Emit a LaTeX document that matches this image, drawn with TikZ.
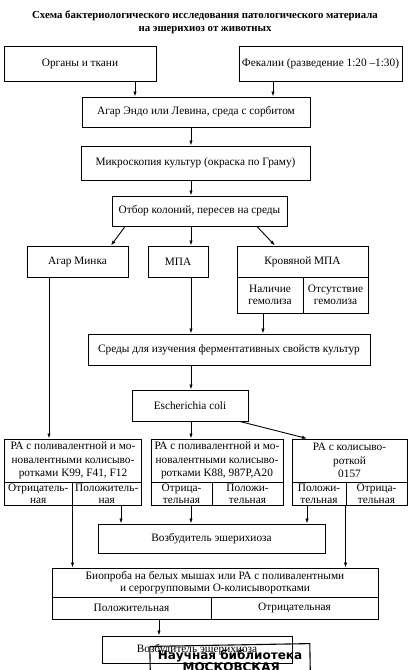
\documentclass[tikz,border=0pt]{standalone}
\usepackage{fontspec}
\setmainfont{Liberation Serif}
\newfontfamily\stampfont{DejaVu Sans}
\usetikzlibrary{arrows.meta}
\begin{document}
\begin{tikzpicture}[x=1pt,y=-1pt,
  box/.style={draw, line width=1pt, inner sep=0.5pt, align=center,
    font=\fontsize{11.3}{13}\selectfont},
  cell/.style={box, font=\fontsize{11.3}{11.8}\selectfont},
  three/.style={box, font=\fontsize{11.3}{13.3}\selectfont},
  arr/.style={line width=0.9pt, -{Latex[length=5pt,width=3.5pt]}},
  stamptext/.style={font=\stampfont\bfseries\fontsize{12}{12}\selectfont, inner sep=0pt}]
\useasboundingbox (0,0) rectangle (409,670);
\fill[white] (0,0) rectangle (409,670);

\node[align=center, font=\bfseries\fontsize{10.8}{13}\selectfont] (title) at (205,22)
  {Схема бактериологического исследования патологического материала\\на эшерихиоз от животных};

\node[box, minimum width=152pt, minimum height=35pt] (organy) at (80,63.5) {Органы и ткани};
\node[box, minimum width=163pt, minimum height=35pt] (fekalii) at (320.5,63.5) {Фекалии (разведение 1:20 –1:30)};
\node[box, minimum width=228pt, minimum height=30pt] (agar) at (196,112) {Агар Эндо или Левина, среда с сорбитом};
\node[box, minimum width=229pt, minimum height=34pt] (mikro) at (195.5,163) {Микроскопия культур (окраска по Граму)};
\node[box, minimum width=175pt, minimum height=30pt] (otbor) at (199.5,211) {Отбор колоний, пересев на среды};

\node[box, minimum width=101pt, minimum height=31pt] (minka) at (77.5,261.5) {Агар Минка};
\node[box, minimum width=60pt, minimum height=31pt] (mpa) at (178,261.5) {МПА};
\node[box, minimum width=131pt, minimum height=31pt] (krov) at (302.5,261.5) {Кровяной МПА};
\node[cell, minimum width=66pt, minimum height=36pt] (nal) at (270,295) {Наличие\\гемолиза};
\node[cell, minimum width=65pt, minimum height=36pt] (ots) at (335.5,295) {Отсутствие\\гемолиза};

\node[box, minimum width=282pt, minimum height=31pt] (sredy) at (229,349.5) {Среды для изучения ферментативных свойств культур};
\node[box, minimum width=116pt, minimum height=31pt] (ecoli) at (190,405.5) {Escherichia coli};

\node[three, minimum width=137pt, minimum height=43pt] (ra1) at (73,460.5)
  {РА с поливалентной и мо-\\новалентными колисыво-\\ротками K99, F41, F12};
\node[cell, minimum width=67.5pt, minimum height=23pt] (ra1n) at (38.25,493.5) {Отрицатель-\\ная};
\node[cell, minimum width=69.5pt, minimum height=23pt] (ra1p) at (106.75,493.5) {Положитель-\\ная};

\node[three, minimum width=132pt, minimum height=43pt] (ra2) at (217,460.5)
  {РА с поливалентной и мо-\\новалентными колисыво-\\ротками K88, 987P,A20};
\node[cell, minimum width=61pt, minimum height=23pt] (ra2n) at (181.5,493.5) {Отрица-\\тельная};
\node[cell, minimum width=71pt, minimum height=23pt] (ra2p) at (247.5,493.5) {Положи-\\тельная};

\node[three, minimum width=115pt, minimum height=43pt] (ra3) at (349.5,460.5)
  {РА с колисыво-\\роткой\\0157};
\node[cell, minimum width=54pt, minimum height=23pt] (ra3p) at (319,493.5) {Положи-\\тельная};
\node[cell, minimum width=61pt, minimum height=23pt] (ra3n) at (376.5,493.5) {Отрица-\\тельная};

\node[box, minimum width=227pt, minimum height=29pt] (vozb1) at (211.5,538.5) {Возбудитель эшерихиоза};

\node[box, minimum width=326pt, minimum height=29pt, font=\fontsize{11.3}{12}\selectfont] (bio) at (215,582.5)
  {Биопроба на белых мышах или РА с поливалентными\\и серогрупповыми О-колисыворотками};
\node[box, minimum width=159pt, minimum height=22pt] (biop) at (131.5,608) {Положительная};
\node[box, minimum width=167pt, minimum height=22pt] (bion) at (294.5,608) {Отрицательная};

\node[box, minimum width=190pt, minimum height=27pt] (vozb2) at (197,649.5) {Возбудитель эшерихиоза};

% connectors
\draw[arr] (organy.south -| 135,0) -- (agar.north -| 135,0);
\draw[arr] (fekalii.south -| 273,0) -- (agar.north -| 273,0);
\draw[arr] (agar.south -| 191,0) -- (mikro.north -| 191,0);
\draw[arr] (mikro.south -| 191,0) -- (otbor.north -| 191,0);
\draw[arr] (otbor.south -| 125,0) -- (minka.north -| 111,0);
\draw[arr] (otbor.south -| 191,0) -- (mpa.north -| 191,0);
\draw[arr] (otbor.south -| 257,0) -- (krov.north -| 275,0);
\draw[arr] (minka.south -| 49,0) -- (ra1.north -| 49,0);
\draw[arr] (mpa.south -| 191,0) -- (sredy.north -| 191,0);
\draw[arr] (nal.south -| 263,0) -- (sredy.north -| 263,0);
\draw[arr] (sredy.south -| 191,0) -- (ecoli.north -| 191,0);
\draw[arr] (ecoli.south -| 191,0) -- (ra2.north -| 191,0);
\draw[arr] (ecoli.south -| 240,0) -- (ra3.north -| 307,0);
\draw[arr] (ra1n.south east) -- (bio.north -| ra1n.south east);
\draw[arr] (ra1p.south -| 121,0) -- (vozb1.north -| 121,0);
\draw[arr] (ra2n.south -| 191,0) -- (vozb1.north -| 191,0);
\draw[arr] (ra3p.south -| 307,0) -- (vozb1.north -| 307,0);
\draw[arr] (ra3n.south west) -- (bio.north -| ra3n.south west);
\draw[arr] (biop.south -| 159,0) -- (vozb2.north -| 159,0);

% library stamp
\begin{scope}[rotate around={1:(230,656)}]
  \draw[line width=1.1pt] (150,672) -- (150,645) -- (310,645) -- (310,672);
  \node[stamptext] (stamp1) at (230,656.5) {Научная библиотека};
  \node[stamptext] (stamp2) at (231,667) {МОСКОВСКАЯ};
\end{scope}
\end{tikzpicture}
\end{document}
